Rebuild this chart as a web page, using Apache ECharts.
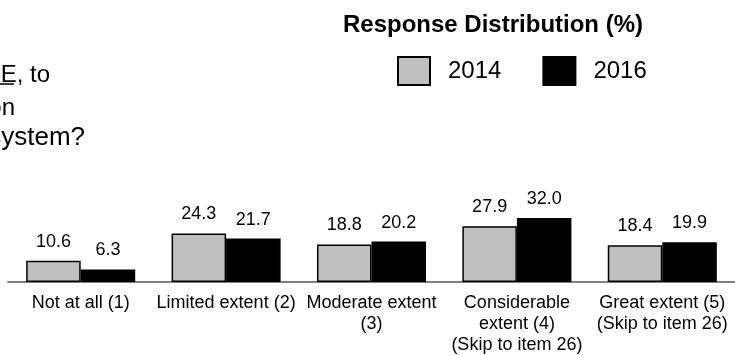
<!DOCTYPE html>
<html>
<head>
<meta charset="utf-8">
<script src="https://cdn.jsdelivr.net/npm/echarts@6/dist/echarts.min.js"></script>
<style>
  html, body { margin: 0; padding: 0; background: #fff; }
  #chart { width: 735px; height: 356px; }
</style>
</head>
<body>
<div id="chart"></div>
<script>
// Response categories (x axis) and the share of responses per survey year
var categories = [
  'Not at all (1)',
  'Limited extent (2)',
  'Moderate extent\n(3)',
  'Considerable\nextent (4)\n(Skip to item 26)',
  'Great extent (5)\n(Skip to item 26)'
];
var values2014 = [10.6, 24.3, 18.8, 27.9, 18.4];
var values2016 = [6.3, 21.7, 20.2, 32.0, 19.9];
var seriesNames = ['2014', '2016'];

var FONT = '"Liberation Sans", Arial, sans-serif';

var chart = echarts.init(document.getElementById('chart'), null, { renderer: 'canvas' });

var labelCfg = {
  show: true,
  position: 'top',
  distance: 10,
  color: '#000',
  fontSize: 18,
  fontFamily: FONT,
  formatter: function (p) { return p.value.toFixed(1); }
};

chart.setOption({
  animation: false,
  backgroundColor: '#fff',
  title: {
    text: 'Response Distribution (%)',
    left: 343,
    top: 13,
    padding: 0,
    textStyle: { fontSize: 24, fontWeight: 'bold', color: '#000', fontFamily: FONT }
  },
  legend: {
    data: seriesNames,
    left: 397,
    top: 56,
    padding: 0,
    icon: 'rect',
    itemWidth: 32,
    itemHeight: 28,
    itemGap: 41,
    textStyle: { fontSize: 24, color: '#000', fontFamily: FONT, padding: [0, 0, 0, 13] }
  },
  // tail of the survey question, running in from the left edge
  graphic: [
    { type: 'text', x: 50, y: 63, style: { text: 'E, to', align: 'right', verticalAlign: 'top', font: '24px ' + FONT, fill: '#000' } },
    { type: 'line', shape: { x1: -1, y1: 84, x2: 14, y2: 84 }, style: { stroke: '#000', lineWidth: 1.5 } },
    { type: 'text', x: 15, y: 96, style: { text: 'on', align: 'right', verticalAlign: 'top', font: '24px ' + FONT, fill: '#000' } },
    { type: 'text', x: 85, y: 125, style: { text: 'system?', align: 'right', verticalAlign: 'top', font: '26px ' + FONT, fill: '#000' } }
  ],
  grid: { left: 8, width: 731, top: 202, height: 82, containLabel: false },
  xAxis: {
    type: 'category',
    data: categories,
    axisLine: { show: true, lineStyle: { color: '#808080', width: 2 } },
    axisTick: { show: false },
    axisLabel: {
      interval: 0,
      margin: 11,
      color: '#000',
      fontSize: 18,
      lineHeight: 21,
      fontFamily: FONT,
      align: 'center'
    }
  },
  yAxis: {
    type: 'value',
    min: 0,
    max: 40,
    show: false,
    splitLine: { show: false }
  },
  series: [
    {
      name: seriesNames[0],
      type: 'bar',
      data: values2014,
      barGap: '0%',
      barCategoryGap: '25%',
      itemStyle: { color: '#c0c0c0', borderColor: '#000', borderWidth: 1.5 },
      label: labelCfg
    },
    {
      name: seriesNames[1],
      type: 'bar',
      data: values2016,
      itemStyle: { color: '#000', borderColor: '#000', borderWidth: 1.5 },
      label: labelCfg
    }
  ]
});
</script>
</body>
</html>
